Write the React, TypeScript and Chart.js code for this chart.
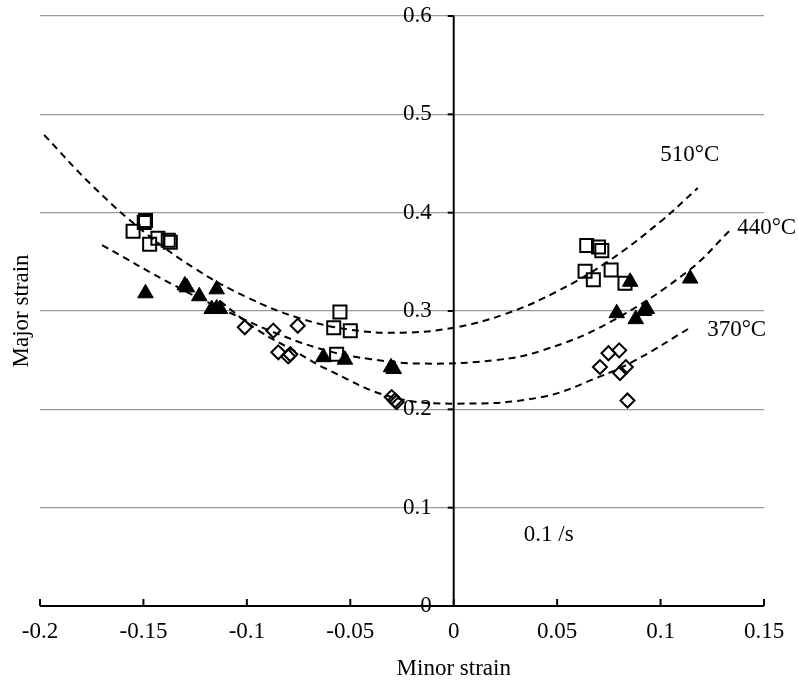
import React, { useEffect, useRef } from 'react';
import { Chart, registerables } from 'chart.js';

Chart.register(...registerables);

// ---------- axes ----------
const X_MIN = -0.2;
const X_MAX = 0.15;
const Y_MIN = 0;
const Y_MAX = 0.6;
const X_TICKS = [-0.2, -0.15, -0.1, -0.05, 0, 0.05, 0.1, 0.15];
const X_TICK_LABELS = ['-0.2', '-0.15', '-0.1', '-0.05', '0', '0.05', '0.1', '0.15'];
const Y_TICKS = [0, 0.1, 0.2, 0.3, 0.4, 0.5, 0.6];
const Y_TICK_LABELS = ['0', '0.1', '0.2', '0.3', '0.4', '0.5', '0.6'];
const X_TITLE = 'Minor strain';
const Y_TITLE = 'Major strain';

// ---------- measured points ----------
// 510°C (open squares)
const SQ510_X = [-0.155, -0.1496, -0.149, -0.147, -0.143, -0.138, -0.137, -0.055, -0.058, -0.05, -0.0566, 0.0643, 0.07, 0.0716, 0.0635, 0.0675, 0.0761, 0.0828];
const SQ510_Y = [0.381, 0.39, 0.392, 0.368, 0.374, 0.372, 0.37, 0.299, 0.283, 0.28, 0.256, 0.3665, 0.365, 0.3614, 0.3404, 0.3317, 0.3418, 0.3282];

// 440°C (filled triangles)
const TR440_X = [-0.149, -0.13, -0.129, -0.123, -0.1146, -0.117, -0.1146, -0.113, -0.063, -0.0526, -0.0303, -0.029, 0.0853, 0.0788, 0.088, 0.0933, 0.092, 0.1143];
const TR440_Y = [0.318, 0.326, 0.324, 0.315, 0.322, 0.302, 0.3026, 0.302, 0.253, 0.2505, 0.2427, 0.241, 0.3297, 0.2978, 0.2917, 0.302, 0.3, 0.333];

// 370°C (open diamonds)
const DI370_X = [-0.101, -0.0872, -0.0754, -0.0848, -0.08, -0.079, -0.03, -0.0284, -0.0276, 0.0748, 0.08, 0.0707, 0.0804, 0.0832, 0.084];
const DI370_Y = [0.2835, 0.28, 0.285, 0.258, 0.2538, 0.256, 0.2125, 0.209, 0.2074, 0.257, 0.26, 0.243, 0.2369, 0.243, 0.209];

// ---------- trend curves ----------
const FIT510_X = [-0.198, -0.175, -0.15, -0.125, -0.1, -0.075, -0.05, -0.025, 0, 0.025, 0.05, 0.075, 0.1, 0.118];
const FIT510_Y = [0.479, 0.428, 0.381, 0.343, 0.314, 0.293, 0.281, 0.278, 0.283, 0.297, 0.32, 0.351, 0.391, 0.425];

const FIT440_X = [-0.17, -0.135, -0.109, -0.083, -0.06, -0.04, -0.015, 0.02, 0.043, 0.075, 0.1135, 0.134];
const FIT440_Y = [0.367, 0.326, 0.299, 0.275, 0.259, 0.251, 0.2465, 0.25, 0.26, 0.288, 0.341, 0.383];

const FIT370_X = [-0.113, -0.095, -0.075, -0.062, -0.03, 0.002, 0.0426, 0.07, 0.0877, 0.1143];
const FIT370_Y = [0.31, 0.281, 0.257, 0.2415, 0.2125, 0.2058, 0.2125, 0.2328, 0.2497, 0.283];

// ---------- annotation texts ----------
const NOTE_TEXTS = ['510°C', '440°C', '370°C', '0.1 /s'];
const NOTE_X = [0.1141, 0.1513, 0.1368, 0.0459];
const NOTE_Y = [0.4587, 0.3844, 0.2807, 0.0722];

const FONT_FAMILY = "'Liberation Serif', 'Times New Roman', serif";
const FONT_SIZE = 23;

const zip = (xs: number[], ys: number[]) => xs.map((x, i) => ({ x, y: ys[i] }));

const customAxes = {
  id: 'customAxes',
  beforeDatasetsDraw(chart: any) {
    const { ctx, scales } = chart;
    const xs = scales.x;
    const ys = scales.y;
    const x0 = xs.getPixelForValue(0);
    const y0 = ys.getPixelForValue(0);
    ctx.save();
    ctx.strokeStyle = '#000';
    ctx.lineWidth = 2;
    // x axis line
    ctx.beginPath();
    ctx.moveTo(xs.getPixelForValue(X_MIN), y0);
    ctx.lineTo(xs.getPixelForValue(X_MAX), y0);
    ctx.stroke();
    // y axis line
    ctx.beginPath();
    ctx.moveTo(x0, ys.getPixelForValue(Y_MIN));
    ctx.lineTo(x0, ys.getPixelForValue(Y_MAX));
    ctx.stroke();
    // x tick marks (upward)
    X_TICKS.forEach((v) => {
      const px = xs.getPixelForValue(v);
      ctx.beginPath();
      ctx.moveTo(px, y0);
      ctx.lineTo(px, y0 - 7);
      ctx.stroke();
    });
    // y tick marks (leftward)
    Y_TICKS.forEach((v) => {
      const py = ys.getPixelForValue(v);
      ctx.beginPath();
      ctx.moveTo(x0 - 6, py);
      ctx.lineTo(x0, py);
      ctx.stroke();
    });
    ctx.restore();
  },
  afterDraw(chart: any) {
    const { ctx, scales } = chart;
    const xs = scales.x;
    const ys = scales.y;
    const x0 = xs.getPixelForValue(0);
    ctx.save();
    ctx.fillStyle = '#000';
    ctx.font = `${FONT_SIZE}px ${FONT_FAMILY}`;
    // y tick labels next to the central axis
    ctx.textAlign = 'right';
    ctx.textBaseline = 'middle';
    Y_TICKS.forEach((v, i) => {
      ctx.fillText(Y_TICK_LABELS[i], x0 - 22, ys.getPixelForValue(v));
    });
    // x title centred on zero
    ctx.textAlign = 'center';
    ctx.fillText(X_TITLE, x0, ys.getPixelForValue(0) + 63);
    // notes
    NOTE_TEXTS.forEach((t, i) => {
      ctx.fillText(t, xs.getPixelForValue(NOTE_X[i]), ys.getPixelForValue(NOTE_Y[i]));
    });
    ctx.restore();
  },
};

export default function App() {
  const canvasRef = useRef<HTMLCanvasElement | null>(null);

  useEffect(() => {
    if (!canvasRef.current) return;
    const curve = (xs: number[], ys: number[]) => ({
      data: zip(xs, ys),
      showLine: true,
      borderColor: '#000',
      borderWidth: 2,
      borderDash: [7, 5],
      pointRadius: 0,
      tension: 0.4,
      fill: false,
      order: 2,
    });
    const chart = new Chart(canvasRef.current, {
      type: 'scatter',
      data: {
        datasets: [
          {
            label: '510°C',
            data: zip(SQ510_X, SQ510_Y),
            pointStyle: 'rect',
            pointRadius: 9.2,
            borderColor: '#000',
            backgroundColor: 'rgba(0,0,0,0)',
            borderWidth: 2,
            order: 0,
          },
          {
            label: '440°C',
            data: zip(TR440_X, TR440_Y),
            pointStyle: 'triangle',
            pointRadius: 9,
            borderColor: '#000',
            backgroundColor: '#000',
            borderWidth: 1,
            order: 0,
          },
          {
            label: '370°C',
            data: zip(DI370_X, DI370_Y),
            pointStyle: 'rectRot',
            pointRadius: 7,
            borderColor: '#000',
            backgroundColor: 'rgba(0,0,0,0)',
            borderWidth: 2,
            order: 0,
          },
          { label: 'fit 510', ...curve(FIT510_X, FIT510_Y) },
          { label: 'fit 440', ...curve(FIT440_X, FIT440_Y) },
          { label: 'fit 370', ...curve(FIT370_X, FIT370_Y) },
        ] as any,
      },
      options: {
        animation: false,
        responsive: false,
        devicePixelRatio: 1,
        layout: { padding: { top: 16, right: 34, bottom: 0, left: 0 } },
        plugins: {
          legend: { display: false },
          tooltip: { enabled: false },
        },
        scales: {
          x: {
            type: 'linear',
            min: X_MIN,
            max: X_MAX,
            position: 'bottom',
            grid: { display: false, drawTicks: false },
            border: { display: false },
            ticks: {
              autoSkip: false,
              maxRotation: 0,
              padding: 12,
              color: '#000',
              font: { family: FONT_FAMILY, size: FONT_SIZE },
              callback: (v: any) => {
                const i = X_TICKS.findIndex((t) => Math.abs(t - Number(v)) < 1e-9);
                return i >= 0 ? X_TICK_LABELS[i] : '';
              },
            },
            afterBuildTicks: (s: any) => {
              s.ticks = X_TICKS.map((value) => ({ value }));
            },
            afterFit: (s: any) => {
              s.height = 85;
            },
          },
          y: {
            type: 'linear',
            min: Y_MIN,
            max: Y_MAX,
            position: 'left',
            grid: { display: true, drawTicks: false, color: '#9a9a9a', lineWidth: 1.3 },
            border: { display: false },
            ticks: { display: false },
            title: {
              display: true,
              text: Y_TITLE,
              color: '#000',
              font: { family: FONT_FAMILY, size: FONT_SIZE },
              padding: { top: 8, bottom: 0 },
            },
            afterBuildTicks: (s: any) => {
              s.ticks = Y_TICKS.map((value) => ({ value }));
            },
            afterFit: (s: any) => {
              s.width = 40;
            },
          },
        },
      } as any,
      plugins: [customAxes],
    });
    return () => chart.destroy();
  }, []);

  return (
    <div style={{ position: 'absolute', left: 0, top: 0, width: 798, height: 691, background: '#fff' }}>
      <canvas ref={canvasRef} width={798} height={691} style={{ display: 'block' }} />
    </div>
  );
}
